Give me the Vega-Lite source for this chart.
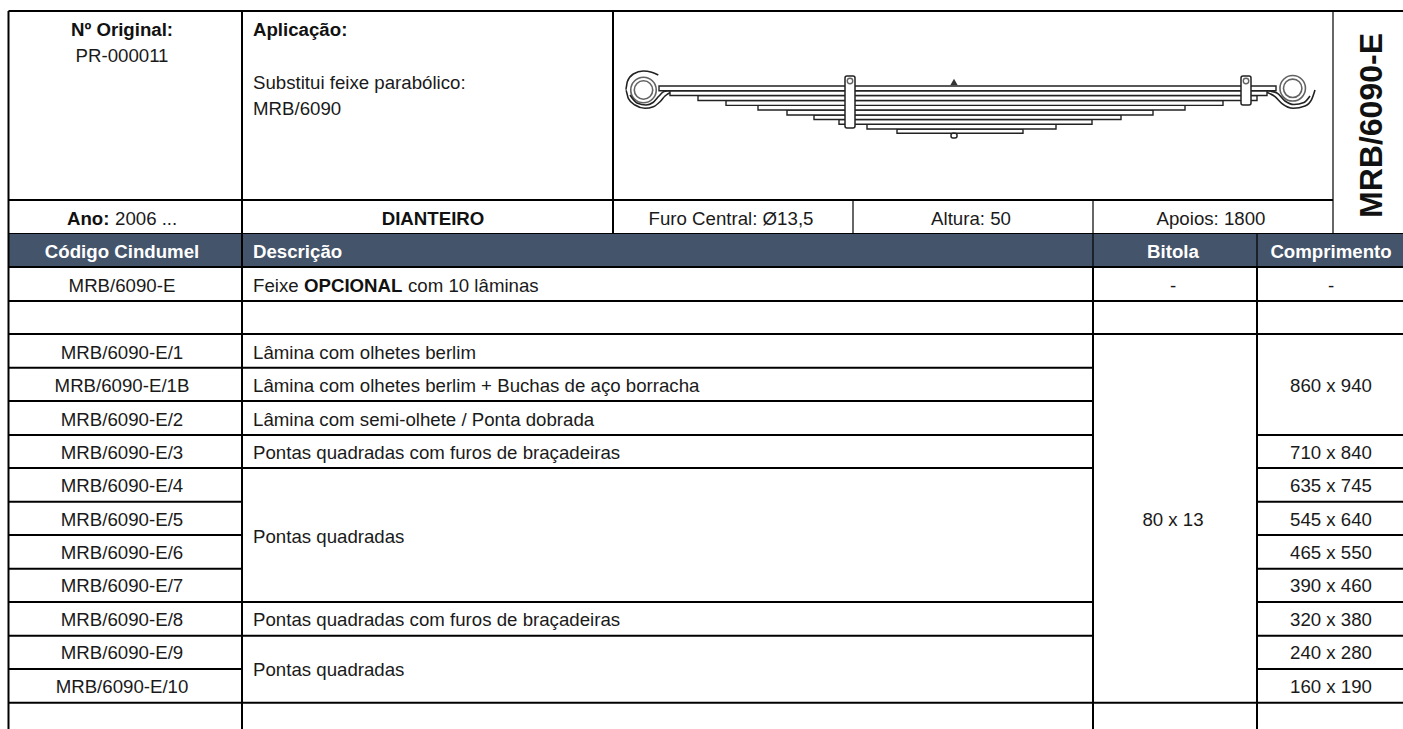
{
"$schema":"https://vega.github.io/schema/vega-lite/v6.json",
"width":1403,"height":729,"padding":0,"autosize":{"type":"none"},
"background":"white",
"config":{"view":{"stroke":null},"axis":{"disable":true}},
"datasets":{
"band":[{"a":8.5,"b":1403,"t":233.5,"u":267}],
"heavy":[
{"a":8.5,"b":1403,"t":11,"u":11},
{"a":8.5,"b":1333,"t":200,"u":200},
{"a":8.5,"b":1403,"t":267,"u":267},
{"a":8.5,"b":1403,"t":301,"u":301},
{"a":8.5,"b":1403,"t":334,"u":334},
{"a":8.5,"b":1093,"t":367.7,"u":367.7},
{"a":8.5,"b":1093,"t":401,"u":401},
{"a":8.5,"b":1093,"t":435,"u":435},
{"a":1257,"b":1403,"t":435,"u":435},
{"a":8.5,"b":1093,"t":468,"u":468},
{"a":1257,"b":1403,"t":468,"u":468},
{"a":8.5,"b":242,"t":501.7,"u":501.7},
{"a":1257,"b":1403,"t":501.7,"u":501.7},
{"a":8.5,"b":242,"t":535,"u":535},
{"a":1257,"b":1403,"t":535,"u":535},
{"a":8.5,"b":242,"t":568.7,"u":568.7},
{"a":1257,"b":1403,"t":568.7,"u":568.7},
{"a":8.5,"b":1093,"t":602,"u":602},
{"a":1257,"b":1403,"t":602,"u":602},
{"a":8.5,"b":1093,"t":635.7,"u":635.7},
{"a":1257,"b":1403,"t":635.7,"u":635.7},
{"a":8.5,"b":242,"t":669,"u":669},
{"a":1257,"b":1403,"t":669,"u":669},
{"a":8.5,"b":1403,"t":702.7,"u":702.7},
{"a":8.5,"b":8.5,"t":11,"u":729},
{"a":242,"b":242,"t":11,"u":729},
{"a":613,"b":613,"t":11,"u":233.5},
{"a":1093,"b":1093,"t":267,"u":729},
{"a":1257,"b":1257,"t":267,"u":729}
],
"fine":[
{"a":1333,"b":1333,"t":11,"u":233.5},
{"a":853,"b":853,"t":200,"u":233.5},
{"a":1093,"b":1093,"t":200,"u":267},
{"a":1257,"b":1257,"t":233.5,"u":267},
{"a":8.5,"b":1403,"t":233.5,"u":233.5}
],
"leaves":[
{"leaf":10,"a":897,"b":1023,"t":129,"u":133.3},
{"leaf":9,"a":867,"b":1056,"t":124.3,"u":129},
{"leaf":8,"a":839,"b":1092,"t":119.5,"u":124.3},
{"leaf":7,"a":814,"b":1121,"t":115,"u":119.5},
{"leaf":6,"a":787,"b":1153,"t":110,"u":115},
{"leaf":5,"a":758,"b":1185,"t":105.4,"u":110},
{"leaf":4,"a":726,"b":1223,"t":100.5,"u":105.4},
{"leaf":3,"a":698,"b":1257,"t":95.5,"u":100.5},
{"leaf":2,"a":670,"b":1267,"t":90.7,"u":95.5},
{"leaf":1,"a":659,"b":1276,"t":86,"u":90.7}
],
"fittings":[
{"a":845,"b":855,"t":76,"u":128},
{"a":1241,"b":1251,"t":76,"u":105},
{"a":951,"b":957,"t":133.3,"u":138}
],
"nuts":[{"a":954,"t":82}],
"holes":[{"a":850,"t":81},{"a":1246,"t":81}],
"eyesOuter":[{"a":643.5,"t":90},{"a":1292.7,"t":88.3}],
"curves":[
{"c":"L1","o":1,"a":658.3,"t":75},{"c":"L1","o":2,"a":651.7,"t":72.3},{"c":"L1","o":3,"a":643.3,"t":71},{"c":"L1","o":4,"a":633.3,"t":74},{"c":"L1","o":5,"a":627.3,"t":81.7},{"c":"L1","o":6,"a":625.7,"t":90},{"c":"L1","o":7,"a":628.3,"t":98.3},{"c":"L1","o":8,"a":635,"t":105},{"c":"L1","o":9,"a":645,"t":108.3},{"c":"L1","o":10,"a":653.3,"t":106.7},{"c":"L1","o":11,"a":660,"t":101.7},{"c":"L1","o":12,"a":665,"t":96},{"c":"L1","o":13,"a":671.7,"t":91.7},
{"c":"L2","o":1,"a":630,"t":95},{"c":"L2","o":2,"a":637,"t":103},{"c":"L2","o":3,"a":646,"t":105},{"c":"L2","o":4,"a":653,"t":102.5},{"c":"L2","o":5,"a":659,"t":96},{"c":"L2","o":6,"a":664,"t":91.5},{"c":"L2","o":7,"a":670,"t":90.7},
{"c":"R1","o":1,"a":1266.7,"t":92.3},{"c":"R1","o":2,"a":1275,"t":96.7},{"c":"R1","o":3,"a":1281.7,"t":103.3},{"c":"R1","o":4,"a":1293.3,"t":108.3},{"c":"R1","o":5,"a":1305,"t":106},{"c":"R1","o":6,"a":1311.7,"t":99.3},{"c":"R1","o":7,"a":1315,"t":90},
{"c":"R2","o":1,"a":1267,"t":90.7},{"c":"R2","o":2,"a":1277,"t":93},{"c":"R2","o":3,"a":1285,"t":101},{"c":"R2","o":4,"a":1294,"t":104.5},{"c":"R2","o":5,"a":1304,"t":102.5},{"c":"R2","o":6,"a":1310,"t":96}
],
"regCenter":[
{"s":"PR-000011","a":122,"t":55},
{"s":"Furo Central: Ø13,5","a":731,"t":217.7},
{"s":"Altura: 50","a":971,"t":217.7},
{"s":"Apoios: 1800","a":1211,"t":217.7},
{"s":"MRB/6090-E","a":122,"t":285},
{"s":"-","a":1173,"t":285},
{"s":"-","a":1331,"t":285},
{"s":"MRB/6090-E/1","a":122,"t":351.7},
{"s":"MRB/6090-E/1B","a":122,"t":385},
{"s":"MRB/6090-E/2","a":122,"t":419},
{"s":"MRB/6090-E/3","a":122,"t":452},
{"s":"MRB/6090-E/4","a":122,"t":485},
{"s":"MRB/6090-E/5","a":122,"t":518.7},
{"s":"MRB/6090-E/6","a":122,"t":552},
{"s":"MRB/6090-E/7","a":122,"t":585},
{"s":"MRB/6090-E/8","a":122,"t":619},
{"s":"MRB/6090-E/9","a":122,"t":652},
{"s":"MRB/6090-E/10","a":122,"t":686},
{"s":"80 x 13","a":1173,"t":518.3},
{"s":"860 x 940","a":1331,"t":384.5},
{"s":"710 x 840","a":1331,"t":452},
{"s":"635 x 745","a":1331,"t":485},
{"s":"545 x 640","a":1331,"t":518.7},
{"s":"465 x 550","a":1331,"t":552},
{"s":"390 x 460","a":1331,"t":585},
{"s":"320 x 380","a":1331,"t":619},
{"s":"240 x 280","a":1331,"t":652},
{"s":"160 x 190","a":1331,"t":686}
],
"regLeft":[
{"s":"Substitui feixe parabólico:","a":253,"t":82},
{"s":"MRB/6090","a":253,"t":108},
{"s":"2006 ...","a":115,"t":217.7},
{"s":"Feixe","a":253,"t":285},
{"s":"com 10 lâminas","a":408,"t":285},
{"s":"Lâmina com olhetes berlim","a":253,"t":351.7},
{"s":"Lâmina com olhetes berlim + Buchas de aço borracha","a":253,"t":385},
{"s":"Lâmina com semi-olhete / Ponta dobrada","a":253,"t":419},
{"s":"Pontas quadradas com furos de braçadeiras","a":253,"t":452},
{"s":"Pontas quadradas","a":253,"t":535.5},
{"s":"Pontas quadradas com furos de braçadeiras","a":253,"t":619},
{"s":"Pontas quadradas","a":253,"t":669}
],
"boldCenter":[
{"s":"Nº Original:","a":122,"t":29},
{"s":"DIANTEIRO","a":433,"t":217.7}
],
"boldLeft":[
{"s":"Aplicação:","a":253,"t":29},
{"s":"Ano:","a":67,"t":217.7},
{"s":"OPCIONAL","a":304,"t":285}
],
"headCenter":[
{"s":"Código Cindumel","a":122,"t":250.7},
{"s":"Bitola","a":1173,"t":250.7},
{"s":"Comprimento","a":1331,"t":250.7}
],
"headLeft":[{"s":"Descrição","a":253,"t":250.7}],
"code":[{"s":"MRB/6090-E","a":1371.5,"t":125.5}]
},
"encoding":{
"x":{"field":"a","type":"quantitative","scale":{"domain":[0,1403],"range":[0,1403],"nice":false,"zero":false},"axis":null},
"y":{"field":"t","type":"quantitative","scale":{"domain":[0,729],"range":[0,729],"nice":false,"zero":false},"axis":null}
},
"layer":[
{"data":{"name":"band"},"mark":{"type":"rect","fill":"#44546A"},"encoding":{"x2":{"field":"b"},"y2":{"field":"u"}}},
{"data":{"name":"heavy"},"mark":{"type":"rule","color":"#000","strokeWidth":2},"encoding":{"x2":{"field":"b"},"y2":{"field":"u"}}},
{"data":{"name":"fine"},"mark":{"type":"rule","color":"#000","strokeWidth":1.2},"encoding":{"x2":{"field":"b"},"y2":{"field":"u"}}},
{"data":{"name":"eyesOuter"},"mark":{"type":"point","shape":"circle","size":650,"filled":false,"stroke":"#222","strokeWidth":1.6}},
{"data":{"name":"eyesOuter"},"mark":{"type":"point","shape":"circle","size":340,"filled":false,"stroke":"#222","strokeWidth":1.6}},
{"data":{"name":"curves"},"mark":{"type":"line","stroke":"#222","strokeWidth":1.6,"interpolate":"monotone"},"encoding":{"detail":{"field":"c"},"order":{"field":"o","type":"quantitative"}}},
{"data":{"name":"leaves"},"mark":{"type":"rect","fill":"#fff","stroke":"#222","strokeWidth":1.4},"encoding":{"x2":{"field":"b"},"y2":{"field":"u"}}},
{"data":{"name":"nuts"},"mark":{"type":"point","shape":"triangle-up","size":55,"filled":true,"fill":"#333","opacity":1}},
{"data":{"name":"fittings"},"mark":{"type":"rect","fill":"#fff","stroke":"#222","strokeWidth":1.5,"cornerRadius":2},"encoding":{"x2":{"field":"b"},"y2":{"field":"u"}}},
{"data":{"name":"holes"},"mark":{"type":"point","shape":"circle","size":30,"filled":false,"stroke":"#222","strokeWidth":1.4}},
{"data":{"name":"regCenter"},"mark":{"type":"text","font":"Liberation Sans","fontSize":18.67,"dy":1.3,"align":"center","baseline":"middle","color":"#1a1a1a"},"encoding":{"text":{"field":"s"}}},
{"data":{"name":"regLeft"},"mark":{"type":"text","font":"Liberation Sans","fontSize":18.67,"dy":1.3,"align":"left","baseline":"middle","color":"#1a1a1a"},"encoding":{"text":{"field":"s"}}},
{"data":{"name":"boldCenter"},"mark":{"type":"text","font":"Liberation Sans","fontSize":18.67,"dy":1.3,"fontWeight":"bold","align":"center","baseline":"middle","color":"#111"},"encoding":{"text":{"field":"s"}}},
{"data":{"name":"boldLeft"},"mark":{"type":"text","font":"Liberation Sans","fontSize":18.67,"dy":1.3,"fontWeight":"bold","align":"left","baseline":"middle","color":"#111"},"encoding":{"text":{"field":"s"}}},
{"data":{"name":"headCenter"},"mark":{"type":"text","font":"Liberation Sans","fontSize":18.67,"dy":1.3,"fontWeight":"bold","align":"center","baseline":"middle","color":"#fff"},"encoding":{"text":{"field":"s"}}},
{"data":{"name":"headLeft"},"mark":{"type":"text","font":"Liberation Sans","fontSize":18.67,"dy":1.3,"fontWeight":"bold","align":"left","baseline":"middle","color":"#fff"},"encoding":{"text":{"field":"s"}}},
{"data":{"name":"code"},"mark":{"type":"text","font":"Liberation Sans","fontSize":32,"fontWeight":"bold","align":"center","baseline":"middle","angle":270,"color":"#111"},"encoding":{"text":{"field":"s"}}}
]
}
